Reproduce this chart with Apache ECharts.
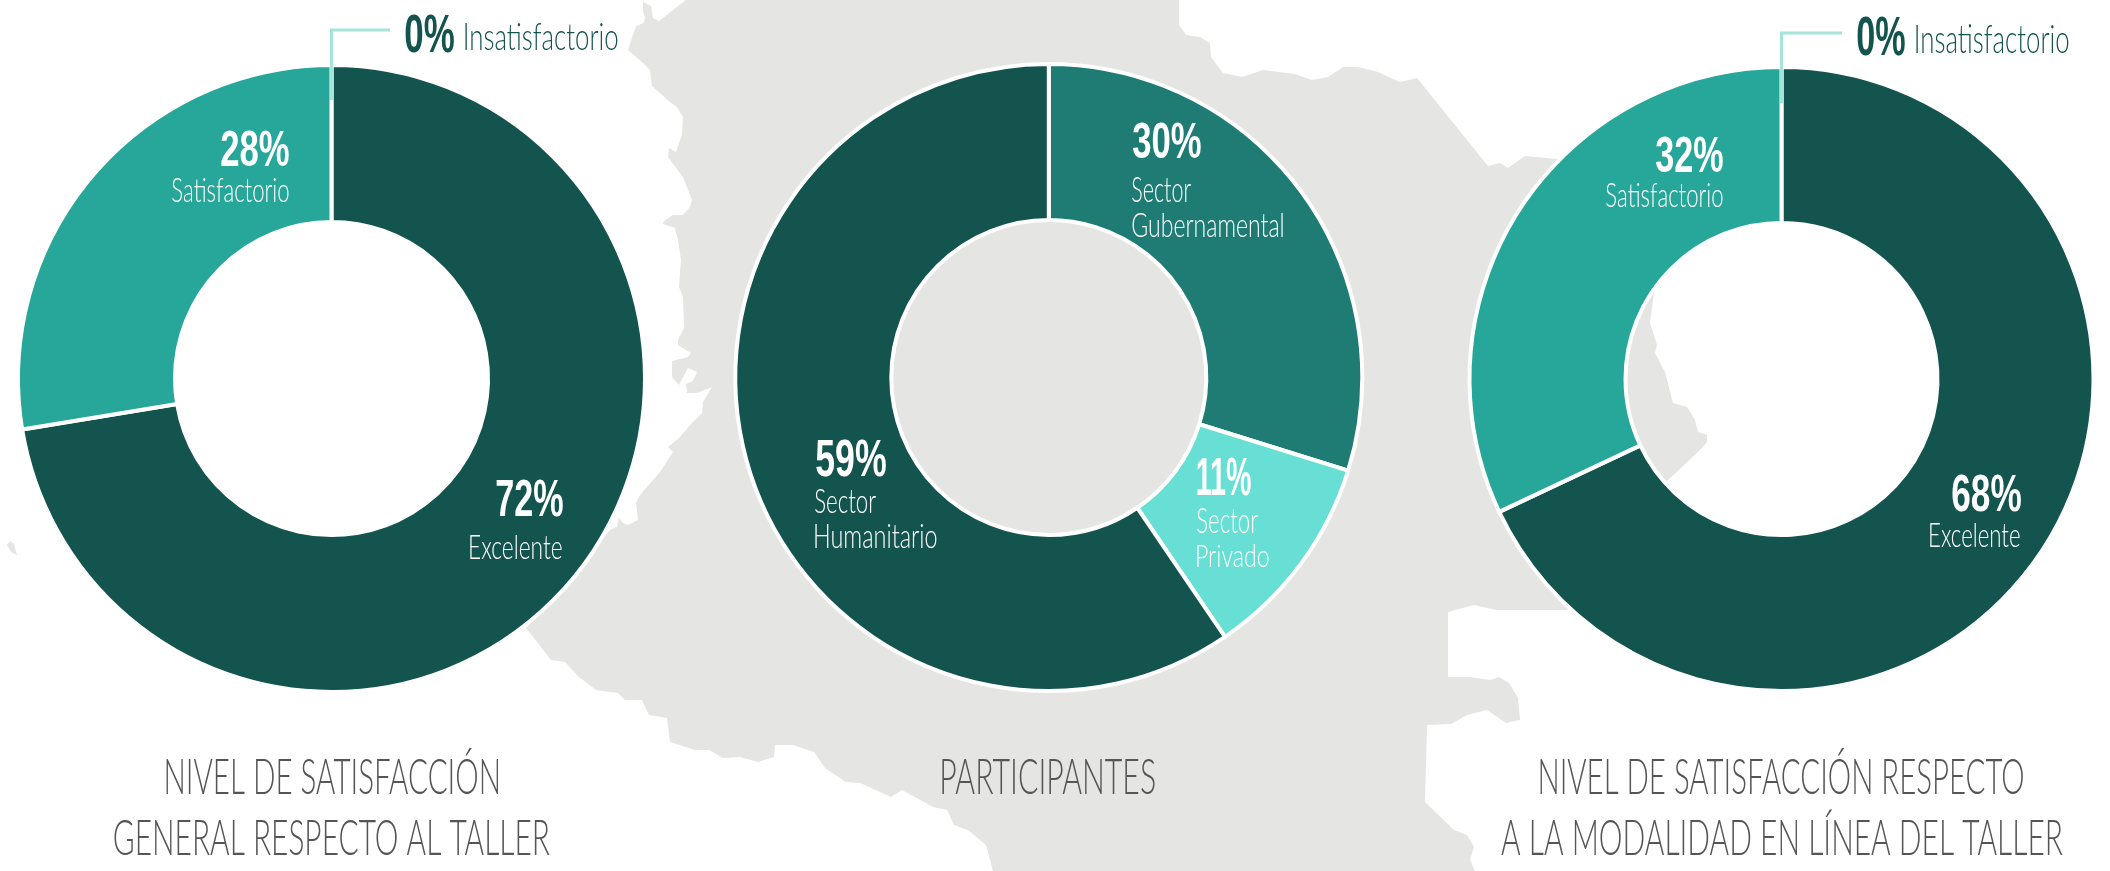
<!DOCTYPE html>
<html>
<head>
<meta charset="utf-8">
<style>html,body{margin:0;padding:0;background:#fff}#c{width:2110px;height:871px}</style>
<script src="https://cdn.jsdelivr.net/npm/echarts@6/dist/echarts.min.js"></script>
</head>
<body>
<div id="c"></div>
<script>
// ---- data ----
const generalNames = ['Insatisfactorio', 'Excelente', 'Satisfactorio'];
const generalValues = [0, 72, 28];               // as printed on the chart
const generalArcShares = [0, 72.4, 27.6];        // as read from the drawn arcs
const participantNames = ['Sector Gubernamental', 'Sector Privado', 'Sector Humanitario'];
const participantValues = [30, 11, 59];          // as printed on the chart
const participantArcShares = [29.8, 10.7, 59.5]; // as read from the drawn arcs
const onlineNames = ['Insatisfactorio', 'Excelente', 'Satisfactorio'];
const onlineValues = [0, 68, 32];
const titleLines = [
  'NIVEL DE SATISFACCIÓN', 'GENERAL RESPECTO AL TALLER', 'PARTICIPANTES',
  'NIVEL DE SATISFACCIÓN RESPECTO', 'A LA MODALIDAD EN LÍNEA DEL TALLER'
];

// ---- styling ----
const DARK = '#14544f', TEAL = '#27a69a', MID = '#1e7c74', LIGHT = '#68dfd4';
const GREY = '#e5e5e3', LEADER = '#a6e3d8', TITLE = '#555555';
const generalColors = [LEADER, DARK, TEAL];
const participantColors = [MID, LIGHT, DARK];
const onlineColors = [LEADER, DARK, TEAL];

const pies = [
  {names: generalNames, values: generalArcShares, colors: generalColors, center: [331.5, 378.5], radius: [156.5, 313.5]},
  {names: participantNames, values: participantArcShares, colors: participantColors, center: [1048.8, 377.5], radius: [157.5, 313.5]},
  {names: onlineNames, values: onlineValues, colors: onlineColors, center: [1781.5, 379], radius: [156, 312]}
];

// decorative backdrop outline
const mapOutline = [
 [686,0],[1179,0],[1179,25],[1186,35],[1200,37],[1210,43],[1211,57],[1223,73],[1242,77],[1263,70],[1295,74],[1312,80],[1328,77],[1343,67],[1358,67],[1378,72],[1400,82],[1417,78],
 [1488,166],[1500,163],[1508,168],[1525,156],[1557,159],[1654,293],[1650,323],[1657,345],[1655,353],[1665,372],[1673,403],[1687,407],[1695,420],[1698,432],[1707,435],[1707,442],[1702,448],[1667,481],
 [1567,610],[1496,610],[1474,605],[1448,612],[1448,677],[1470,677],[1490,680],[1499,677],[1509,683],[1518,698],[1520,720],[1506,723],[1487,710],[1467,715],[1451,724],[1427,725],[1425,802],[1454,830],[1467,835],[1474,847],[1470,860],[1475,871],
 [993,871],[986,845],[968,830],[954,825],[947,810],[933,807],[902,790],[891,797],[860,783],[846,782],[825,768],[814,752],[793,745],[775,745],[774,757],[758,762],[740,757],[723,758],[709,750],[695,750],[670,742],[667,718],[649,715],[642,700],[625,700],[618,693],[596,690],[579,677],[565,662],[551,660],[526,628],
 [610,530],[617,527],[619,518],[623,523],[628,525],[638,520],[636,503],[640,495],[660,472],[673,452],[668,447],[679,438],[692,423],[702,413],[703,402],[712,387],[697,393],[687,393],[686,384],[693,381],[697,372],[688,368],[679,385],[672,377],[672,361],[688,357],[691,353],[678,345],[678,340],[684,328],[683,297],[679,287],[681,260],[678,240],[675,228],[663,224],[664,221],[673,215],[683,215],[690,207],[692,200],[683,177],[668,157],[669,148],[676,152],[682,135],[683,117],[677,107],[670,102],[652,86],[650,70],[643,63],[628,50],[636,26],[644,23],[645,17],[643,12],[643,2],[651,6],[653,18],[659,21]
];
const islandOutline = [[7,545],[10,541],[14,544],[17,555],[11,552]];

// text boxes: [text, left, right, top, bottom, style]
const S = {
  title: {font: '300 46px Lato, "Liberation Sans", sans-serif', fill: TITLE, ref: 'H'},
  pct:   {font: 'bold 46px "Liberation Sans Narrow", "Liberation Sans", sans-serif', fill: '#ffffff', ref: 'H'},
  sub:   {font: '300 34px Lato, "Liberation Sans", sans-serif', fill: '#ffffff', ref: 'l'},
  pctD:  {font: 'bold 46px "Liberation Sans Narrow", "Liberation Sans", sans-serif', fill: DARK, ref: 'H'},
  subD:  {font: '300 34px Lato, "Liberation Sans", sans-serif', fill: DARK, ref: 'l'}
};
const pctText = (v) => v + '%';
const textBoxes = [
  [pctText(generalValues[0]), 405, 454, 15, 52, S.pctD],
  [generalNames[0], 465, 618, 23, 50, S.subD],
  [pctText(generalValues[2]), 221, 289, 131, 166, S.pct],
  [generalNames[2], 172, 289, 178, 202, S.sub],
  [pctText(generalValues[1]), 496, 563, 480, 516, S.pct],
  [generalNames[1], 470, 562, 535, 559, S.sub],

  [pctText(participantValues[0]), 1133, 1201, 123, 158, S.pct],
  ['Sector', 1132, 1191, 177, 202, S.sub],
  ['Gubernamental', 1132, 1283, 213, 237, S.sub],
  [pctText(participantValues[2]), 816, 886, 440, 476, S.pct],
  ['Sector', 815, 876, 490, 513, S.sub],
  ['Humanitario', 815, 937, 525, 548, S.sub],
  [pctText(participantValues[1]), 1197, 1251, 458, 495, S.pct],
  ['Sector', 1197, 1258, 508, 533, S.sub],
  ['Privado', 1197, 1269, 545, 567, S.sub],

  [pctText(onlineValues[0]), 1857, 1905, 17, 55, S.pctD],
  [onlineNames[0], 1916, 2069, 25, 53, S.subD],
  [pctText(onlineValues[2]), 1656, 1723, 137, 172, S.pct],
  [onlineNames[2], 1606, 1723, 183, 207, S.sub],
  [pctText(onlineValues[1]), 1952, 2021, 475, 511, S.pct],
  [onlineNames[1], 1930, 2020, 523, 547, S.sub],

  [titleLines[0], 166, 498, 760, 794, S.title],
  [titleLines[1], 114, 550, 821, 855, S.title],
  [titleLines[2], 942, 1155, 760, 794, S.title],
  [titleLines[3], 1540, 2023, 760, 794, S.title],
  [titleLines[4], 1501, 2063, 821, 855, S.title]
];

const leaders = [
  {x: 331.5, bottom: 100, top: 30, end: 390},
  {x: 1781.5, bottom: 103, top: 33, end: 1842}
];

// fit each text to its box with the font's own metrics
const ctx = document.createElement('canvas').getContext('2d');
ctx.textBaseline = 'middle';
ctx.textAlign = 'left';
function fitText(box) {
  const [text, left, right, top, bottom, st] = box;
  ctx.font = st.font;
  const m = ctx.measureText(text), r = ctx.measureText(st.ref);
  const sx = (right - left) / (m.actualBoundingBoxLeft + m.actualBoundingBoxRight);
  const sy = (bottom - top) / (r.actualBoundingBoxAscent + r.actualBoundingBoxDescent);
  return {
    type: 'text', z: 100, silent: true,
    x: left + m.actualBoundingBoxLeft * sx,
    y: bottom - r.actualBoundingBoxDescent * sy,
    scaleX: sx, scaleY: sy,
    style: {text, font: st.font, fill: st.fill, align: 'left', verticalAlign: 'middle'}
  };
}

const toShape = (pts) => ({points: pts});
const graphics = [
  {type: 'polygon', z: -10, silent: true, shape: toShape(mapOutline), style: {fill: GREY}},
  {type: 'polygon', z: -10, silent: true, shape: toShape(islandOutline), style: {fill: GREY}}
].concat(leaders.map((l) => ({
  type: 'polyline', z: 50, silent: true,
  shape: {points: [[l.x, l.bottom], [l.x, l.top], [l.end, l.top]]},
  style: {stroke: LEADER, lineWidth: 3, fill: null}
}))).concat(textBoxes.map(fitText));

const chart = echarts.init(document.getElementById('c'), null, {renderer: 'canvas'});
chart.setOption({
  animation: false,
  backgroundColor: '#ffffff',
  tooltip: {show: false},
  series: pies.map((p) => ({
    type: 'pie',
    center: p.center,
    radius: p.radius,
    startAngle: 90,
    clockwise: true,
    silent: true,
    avoidLabelOverlap: false,
    label: {show: false},
    labelLine: {show: false},
    itemStyle: {borderColor: '#ffffff', borderWidth: 4},
    data: p.names.map((n, i) => ({
      name: n, value: p.values[i], itemStyle: {color: p.colors[i]}
    }))
  })),
  graphic: {elements: graphics}
});
</script>
</body>
</html>
